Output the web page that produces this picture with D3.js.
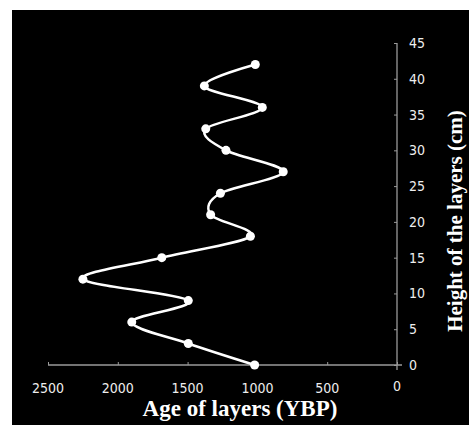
<!DOCTYPE html>
<html>
<head>
<meta charset="utf-8">
<script src="https://cdn.jsdelivr.net/npm/d3@7"></script>
<style>
  body { margin: 0; background: #fff; }
  #chart { width: 469px; height: 425px; }
</style>
</head>
<body>
<div id="chart"></div>
<script>

// layer heights (cm) and their ages (YBP)
var heights = [0, 3, 6, 9, 12, 15, 18, 21, 24, 27, 30, 33, 36, 39, 42];
var ages = [1020, 1495, 1900, 1495, 2250, 1685, 1050, 1335, 1265, 815, 1225, 1370, 965, 1380, 1015];
var xTicks = [2500, 2000, 1500, 1000, 500, 0];
var yTicks = [0, 5, 10, 15, 20, 25, 30, 35, 40, 45];

var width = 469, height = 425;

var svg = d3.select("#chart")
    .append("svg")
    .attr("width", width)
    .attr("height", height);

svg.append("rect")
    .attr("x", 12)
    .attr("y", 10)
    .attr("width", width - 12)
    .attr("height", height - 10)
    .attr("fill", "#000");

var x = d3.scaleLinear()
    .domain([2500, 0])
    .range([48, 397]);

var y = d3.scaleLinear()
    .domain([0, 45])
    .range([365, 43]);

var axisColor = "#9a9a9a";

// x axis
var xAxis = svg.append("g")
    .attr("transform", "translate(0," + y(0) + ")")
    .call(d3.axisTop(x).tickValues(xTicks).tickSize(3).tickFormat(""));
xAxis.select(".domain").attr("stroke", axisColor).attr("stroke-width", 1.3)
    .attr("d", "M" + x(2500) + ",0H" + (x(0) + 5));
xAxis.selectAll(".tick line").attr("stroke", axisColor);

svg.selectAll(".xlabel")
    .data(xTicks)
    .enter()
    .append("text")
    .attr("class", "xlabel")
    .attr("x", function(d) { return x(d); })
    .attr("y", function(d) { return d == 0 ? 391 : 393; })
    .attr("text-anchor", "middle")
    .attr("font-family", "'DejaVu Sans Condensed', 'DejaVu Sans', sans-serif")
    .attr("font-size", "14px")
    .attr("fill", "#eee")
    .text(function(d) { return d; });

// y axis
var yAxis = svg.append("g")
    .attr("transform", "translate(" + x(0) + ",0)")
    .call(d3.axisLeft(y).tickValues(yTicks).tickSize(3).tickFormat(""));
yAxis.select(".domain").attr("stroke", axisColor).attr("stroke-width", 1.3)
    .attr("d", "M0," + y(45) + "V" + (y(0) + 5));
yAxis.selectAll(".tick line").attr("stroke", axisColor);

svg.selectAll(".ylabel")
    .data(yTicks)
    .enter()
    .append("text")
    .attr("class", "ylabel")
    .attr("x", 409)
    .attr("y", function(d) { return y(d) + 5; })
    .attr("font-family", "'DejaVu Sans Condensed', 'DejaVu Sans', sans-serif")
    .attr("font-size", "14px")
    .attr("fill", "#eee")
    .text(function(d) { return d; });

// titles
svg.append("text")
    .attr("x", 240)
    .attr("y", 416)
    .attr("text-anchor", "middle")
    .attr("font-family", "'Liberation Serif', 'Times New Roman', serif")
    .attr("font-weight", "700")
    .attr("font-size", "23px")
    .attr("fill", "#fff")
    .text("Age of layers (YBP)");

svg.append("text")
    .attr("transform", "translate(462,221) rotate(-90)")
    .attr("text-anchor", "middle")
    .attr("font-family", "'Liberation Serif', 'Times New Roman', serif")
    .attr("font-weight", "700")
    .attr("font-size", "21px")
    .attr("fill", "#fff")
    .text("Height of the layers (cm)");

// smoothed line + markers
var points = heights.map(function(h, i) { return { h: h, age: ages[i] }; });

var line = d3.line()
    .x(function(d) { return x(d.age); })
    .y(function(d) { return y(d.h); })
    .curve(d3.curveCardinal.tension(0));

svg.append("path")
    .datum(points)
    .attr("d", line)
    .attr("fill", "none")
    .attr("stroke", "#fff")
    .attr("stroke-width", 2.5);

svg.selectAll("circle")
    .data(points)
    .enter()
    .append("circle")
    .attr("cx", function(d) { return x(d.age); })
    .attr("cy", function(d) { return y(d.h); })
    .attr("r", 4.5)
    .attr("fill", "#fff");

</script>
</body>
</html>
